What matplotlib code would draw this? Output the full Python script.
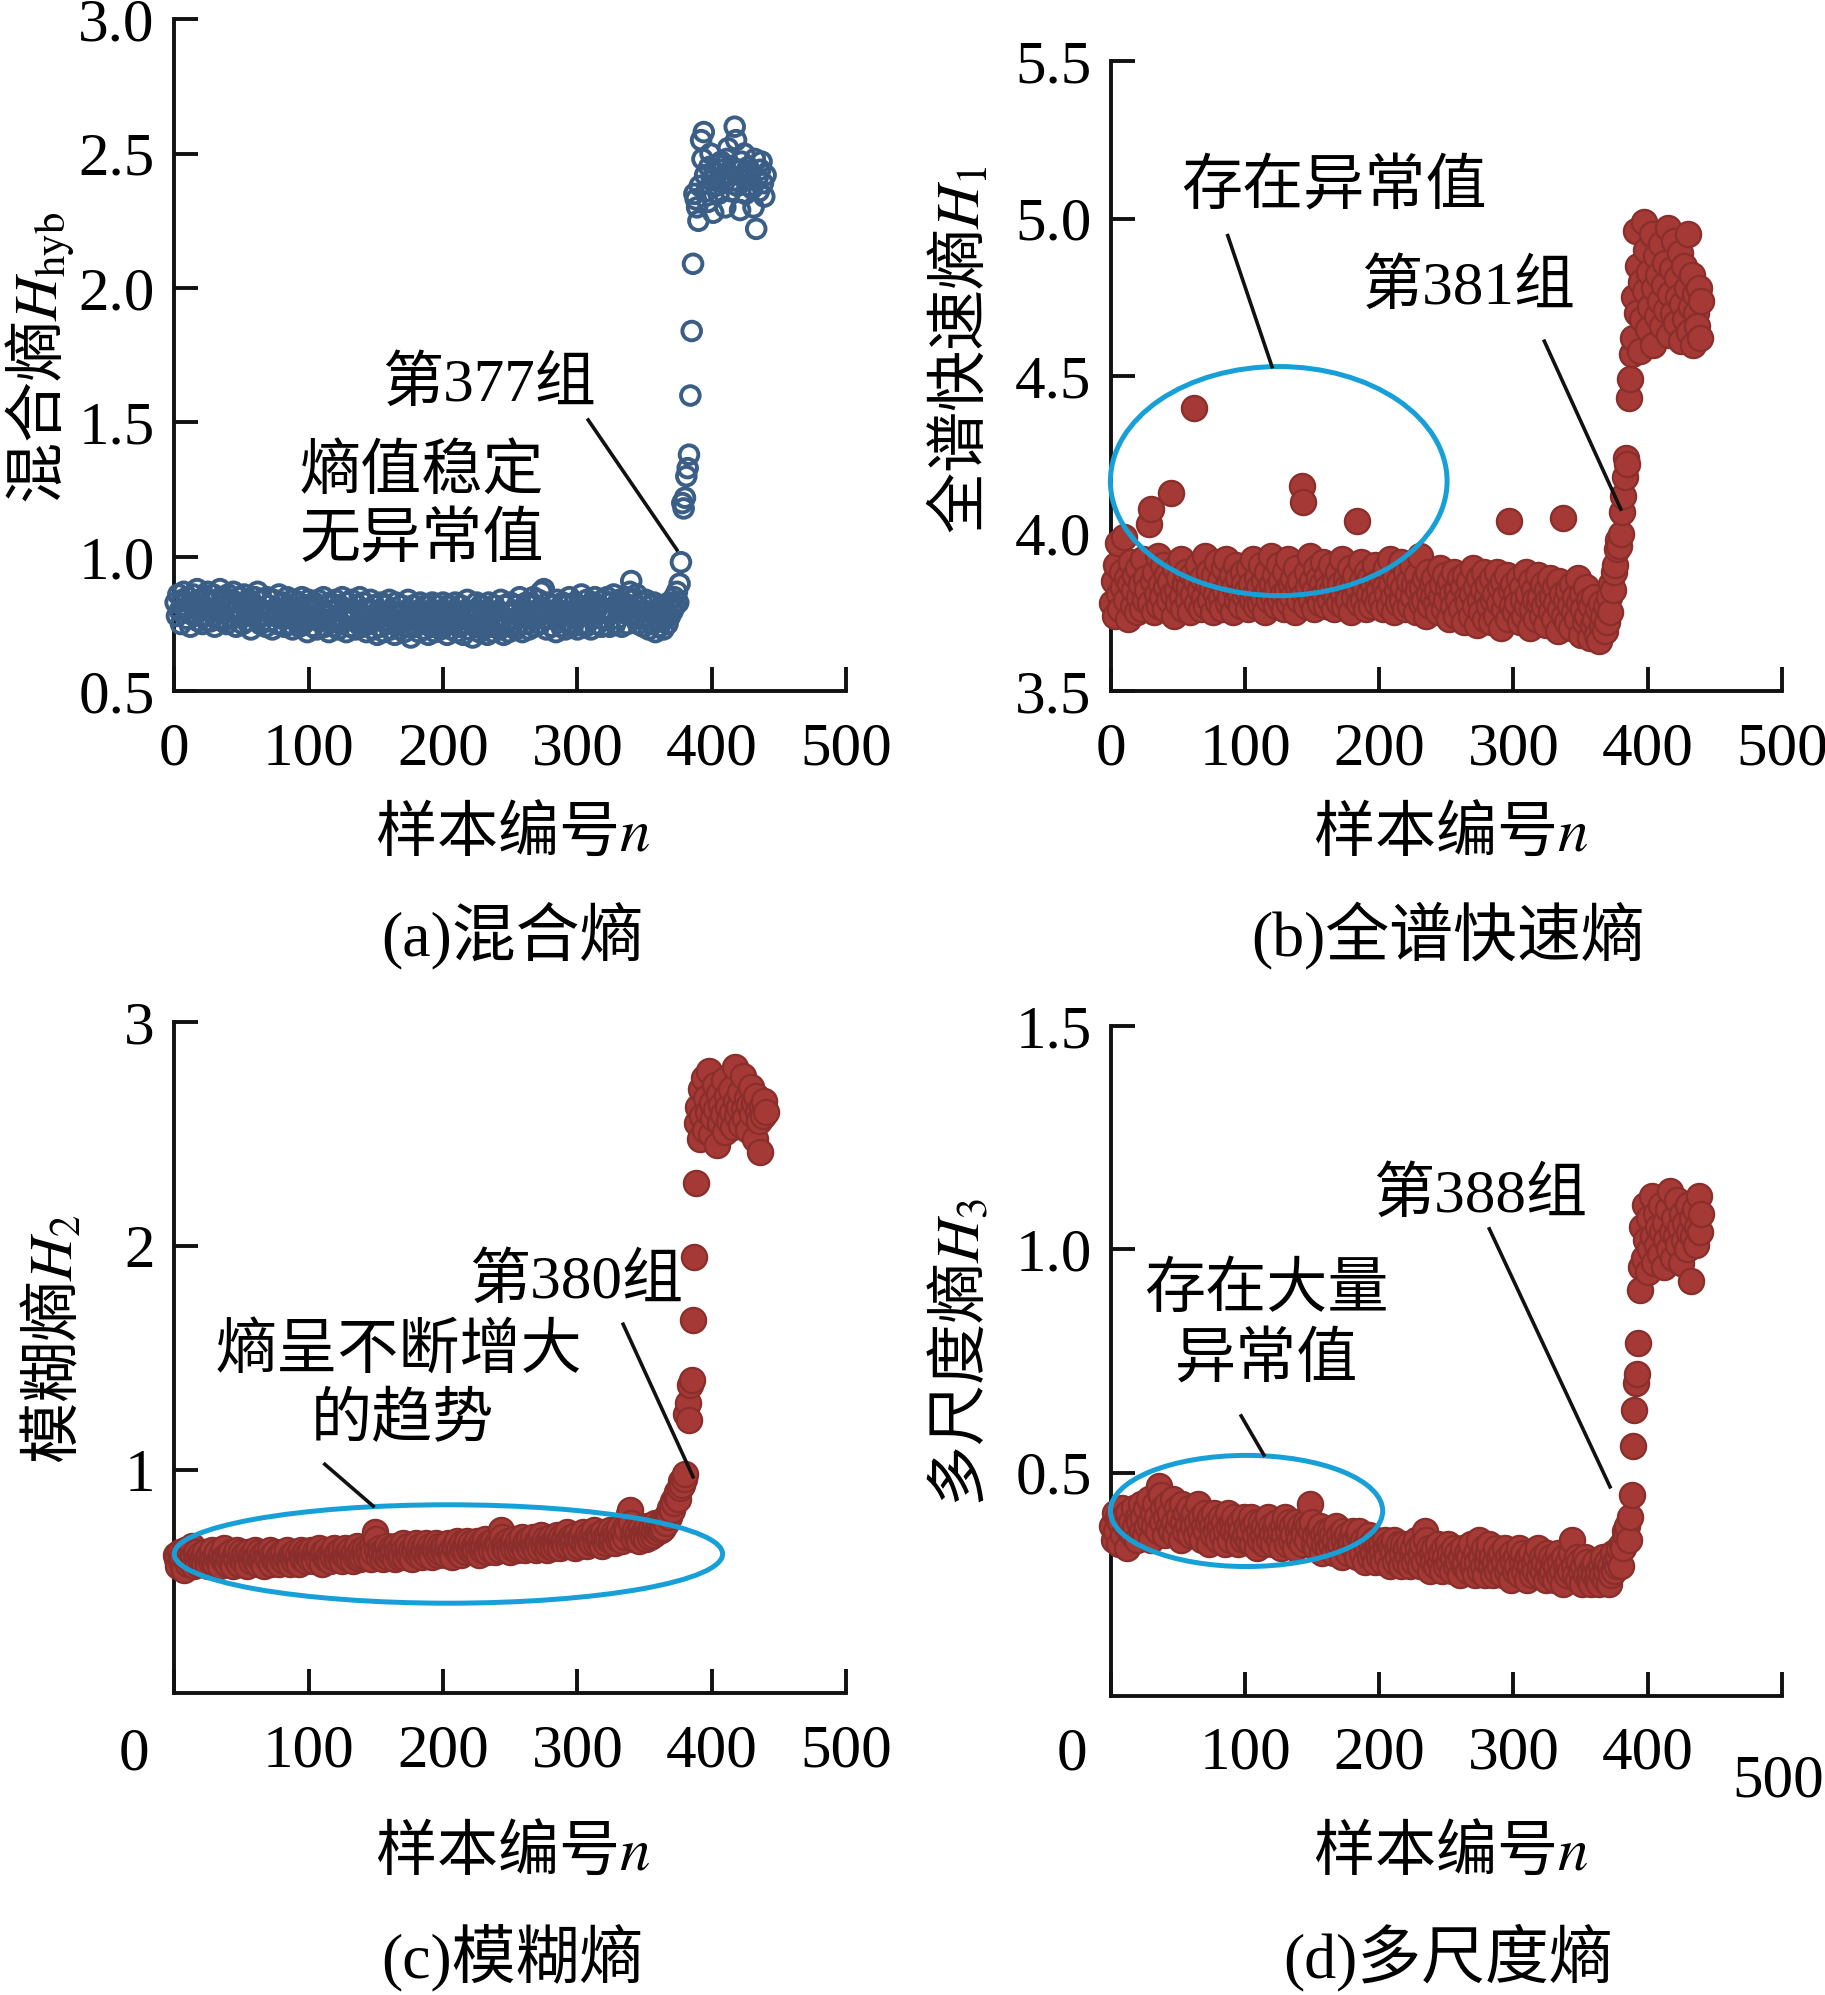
import numpy as np
import matplotlib
matplotlib.use('Agg')
import matplotlib.pyplot as plt
from matplotlib.patches import Ellipse

plt.rcParams['font.family'] = ['Liberation Serif', 'Noto Sans CJK SC']
plt.rcParams['mathtext.fontset'] = 'stix'

# ---------------- data (sample index n = 1 .. len) ----------------
hyb = [
    0.83,0.78,0.86,0.80,0.75,0.84,0.87,0.81,0.77,0.85,0.79,0.74,0.83,0.86,0.78,0.81,0.88,0.76,0.84,0.80,
    0.75,0.85,0.81,0.78,0.87,0.83,0.76,0.80,0.86,0.74,0.84,0.81,0.77,0.88,0.80,0.76,0.85,0.82,0.75,0.86,
    0.80,0.84,0.77,0.87,0.81,0.74,0.83,0.78,0.85,0.80,0.75,0.86,0.81,0.76,0.84,0.78,0.73,0.83,0.79,0.85,
    0.77,0.87,0.81,0.75,0.84,0.78,0.80,0.74,0.85,0.82,0.76,0.80,0.73,0.84,0.78,0.81,0.75,0.86,0.79,0.77,
    0.83,0.74,0.78,0.85,0.80,0.75,0.81,0.73,0.84,0.78,0.76,0.83,0.74,0.80,0.85,0.75,0.78,0.82,0.72,0.84,
    0.77,0.80,0.74,0.83,0.78,0.73,0.84,0.76,0.80,0.77,0.85,0.74,0.79,0.82,0.72,0.83,0.77,0.80,0.74,0.84,
    0.78,0.73,0.82,0.75,0.85,0.77,0.80,0.72,0.83,0.78,0.74,0.84,0.77,0.80,0.73,0.82,0.75,0.85,0.78,0.74,
    0.83,0.77,0.72,0.80,0.75,0.84,0.78,0.73,0.82,0.77,0.71,0.80,0.74,0.83,0.78,0.72,0.82,0.75,0.79,0.84,
    0.73,0.80,0.77,0.71,0.83,0.75,0.79,0.73,0.82,0.77,0.72,0.80,0.74,0.84,0.77,0.70,0.79,0.82,0.74,0.77,
    0.80,0.72,0.83,0.75,0.79,0.73,0.82,0.77,0.71,0.80,0.74,0.83,0.78,0.72,0.82,0.75,0.80,0.73,0.77,0.83,
    0.74,0.79,0.71,0.82,0.77,0.73,0.80,0.75,0.83,0.72,0.79,0.74,0.82,0.77,0.71,0.80,0.75,0.84,0.73,0.79,
    0.77,0.70,0.80,0.74,0.83,0.79,0.72,0.82,0.75,0.73,0.80,0.77,0.71,0.83,0.74,0.79,0.72,0.82,0.77,0.74,
    0.80,0.73,0.84,0.77,0.71,0.82,0.75,0.79,0.72,0.83,0.74,0.80,0.77,0.73,0.82,0.75,0.85,0.79,0.72,0.80,
    0.75,0.83,0.77,0.73,0.82,0.79,0.85,0.74,0.80,0.77,0.84,0.75,0.87,0.80,0.88,0.79,0.73,0.83,0.77,0.80,
    0.74,0.82,0.79,0.72,0.84,0.77,0.80,0.74,0.83,0.79,0.73,0.82,0.75,0.85,0.79,0.74,0.80,0.83,0.77,0.73,
    0.82,0.79,0.86,0.75,0.80,0.74,0.84,0.79,0.82,0.73,0.83,0.77,0.85,0.80,0.75,0.82,0.79,0.74,0.84,0.80,
    0.77,0.85,0.80,0.74,0.83,0.79,0.86,0.75,0.82,0.77,0.84,0.80,0.74,0.83,0.79,0.85,0.75,0.82,0.87,0.91,
    0.84,0.78,0.82,0.86,0.75,0.80,0.77,0.83,0.74,0.80,0.84,0.77,0.73,0.82,0.79,0.75,0.83,0.72,0.80,0.77,
    0.74,0.79,0.82,0.73,0.77,0.80,0.75,0.83,0.78,0.81,0.80,0.85,0.82,0.87,0.83,0.90,
    0.98,
    1.20,1.18,1.22,1.30,1.33,1.38,1.60,1.84,2.09,
    2.35,2.33,2.30,2.25,2.38,2.55,2.48,2.58,2.42,2.36,2.32,2.45,2.50,2.40,2.28,2.43,2.38,2.46,2.35,2.41,
    2.47,2.44,2.39,2.30,2.48,2.52,2.42,2.36,2.45,2.40,2.60,2.55,2.38,2.44,2.29,2.47,2.42,2.50,2.35,2.40,
    2.45,2.38,2.43,2.37,2.30,2.48,2.22,2.41,2.36,2.44,2.47,2.39,2.34,2.42,
]

h1 = [
    3.78,3.85,3.74,3.90,3.97,3.81,3.76,3.88,3.83,3.99,3.79,3.86,3.73,3.84,3.91,3.77,3.82,3.87,3.75,3.89,
    3.80,3.84,3.76,3.92,3.79,3.86,3.82,4.03,3.78,4.08,3.85,3.75,3.88,3.81,3.93,3.77,3.84,3.80,3.90,3.76,
    3.83,3.87,3.79,3.85,4.13,3.81,3.74,3.89,3.82,3.78,3.86,3.92,3.80,3.76,3.84,3.88,3.79,3.83,3.75,3.87,
    3.81,4.40,3.85,3.78,3.90,3.82,3.76,3.86,3.80,3.93,3.77,3.84,3.88,3.79,3.83,3.75,3.87,3.81,3.91,3.78,
    3.85,3.80,3.76,3.89,3.82,3.92,3.78,3.84,3.80,3.87,3.75,3.83,3.90,3.79,3.86,3.81,3.77,3.88,3.84,3.80,
    3.82,3.76,3.89,3.84,3.79,3.92,3.81,3.77,3.86,3.83,3.78,3.90,3.80,3.85,3.75,3.88,3.82,3.79,3.93,3.84,
    3.80,3.87,3.77,3.83,3.90,3.79,3.85,3.81,3.76,3.88,3.82,3.92,3.78,3.84,3.80,3.86,3.75,3.89,3.83,3.79,
    3.85,4.15,4.10,3.81,3.77,3.88,3.83,3.93,3.79,3.85,3.76,3.82,3.89,3.80,3.86,3.78,3.84,3.91,3.81,3.77,
    3.87,3.83,3.79,3.90,3.82,3.76,3.85,3.80,3.88,3.78,3.84,3.92,3.81,3.77,3.86,3.83,3.79,3.89,3.75,3.84,
    3.80,3.87,4.04,3.82,3.78,3.91,3.85,3.79,3.83,3.76,3.88,3.81,3.86,3.77,3.84,3.80,3.90,3.78,3.85,3.82,
    3.79,3.86,3.76,3.83,3.89,3.81,3.77,3.92,3.84,3.80,3.75,3.87,3.82,3.78,3.85,3.91,3.79,3.83,3.76,3.88,
    3.81,3.85,3.77,3.90,3.80,3.84,3.75,3.87,3.82,3.93,3.78,3.83,3.79,3.86,3.74,3.88,3.81,3.77,3.84,3.80,
    3.86,3.78,3.82,3.75,3.89,3.80,3.84,3.76,3.87,3.79,3.83,3.73,3.85,3.81,3.77,3.88,3.74,3.82,3.79,3.86,
    3.76,3.83,3.72,3.87,3.80,3.78,3.85,3.74,3.81,3.89,3.77,3.83,3.71,3.86,3.79,3.75,3.82,3.88,3.73,3.80,
    3.84,3.77,3.72,3.86,3.79,3.81,3.74,3.88,3.78,3.83,3.70,3.85,3.76,3.80,3.87,3.73,4.04,3.82,3.77,3.84,
    3.75,3.81,3.78,3.86,3.72,3.83,3.79,3.74,3.88,3.77,3.81,3.70,3.85,3.76,3.82,3.79,3.73,3.87,3.78,3.80,
    3.74,3.84,3.77,3.71,3.82,3.79,3.86,3.75,3.80,3.73,3.83,3.78,3.69,3.85,3.76,3.81,4.05,3.74,3.79,3.72,
    3.82,3.77,3.70,3.84,3.75,3.80,3.73,3.86,3.78,3.68,3.81,3.76,3.72,3.83,3.74,3.79,3.67,3.77,3.71,3.80,
    3.73,3.68,3.76,3.66,3.78,3.71,3.74,3.69,3.77,3.72,3.80,3.75,3.84,3.82,3.88,
    3.90,3.95,3.98,3.96,4.00,4.07,4.12,4.18,4.24,4.22,4.43,4.49,4.57,
    4.62,4.75,4.96,4.70,4.85,4.58,4.80,4.68,4.99,4.77,4.90,4.65,4.83,4.72,4.95,4.60,4.78,4.88,4.69,4.82,
    4.74,4.92,4.66,4.79,4.86,4.71,4.97,4.63,4.76,4.84,4.70,4.93,4.67,4.81,4.75,4.89,4.61,4.73,4.85,4.68,
    4.78,4.95,4.64,4.72,4.82,4.60,4.76,4.70,4.66,4.78,4.62,4.74,
]

h2 = [
    0.62,0.60,0.57,0.63,0.59,0.61,0.55,0.64,0.60,0.58,0.62,0.59,0.66,0.61,0.57,0.63,0.60,0.58,0.62,0.59,
    0.61,0.58,0.63,0.60,0.57,0.62,0.59,0.64,0.60,0.58,0.61,0.63,0.59,0.57,0.62,0.60,0.65,0.61,0.58,0.62,
    0.60,0.63,0.59,0.57,0.62,0.60,0.64,0.58,0.61,0.63,0.59,0.62,0.60,0.57,0.63,0.61,0.59,0.62,0.60,0.64,
    0.61,0.58,0.63,0.60,0.62,0.59,0.57,0.63,0.61,0.60,0.64,0.58,0.62,0.60,0.63,0.59,0.61,0.58,0.62,0.60,
    0.63,0.59,0.61,0.64,0.60,0.58,0.62,0.61,0.59,0.63,0.60,0.62,0.58,0.64,0.61,0.60,0.63,0.59,0.62,0.61,
    0.60,0.64,0.61,0.59,0.63,0.62,0.60,0.65,0.61,0.58,0.63,0.61,0.64,0.60,0.62,0.59,0.63,0.61,0.65,0.62,
    0.60,0.63,0.61,0.64,0.59,0.62,0.65,0.61,0.63,0.60,0.64,0.62,0.59,0.63,0.61,0.66,0.62,0.60,0.64,0.61,
    0.63,0.65,0.61,0.64,0.62,0.60,0.66,0.63,0.72,0.69,0.64,0.61,0.65,0.63,0.60,0.64,0.62,0.66,0.61,0.63,
    0.65,0.62,0.64,0.60,0.66,0.63,0.61,0.65,0.62,0.67,0.64,0.61,0.63,0.66,0.62,0.64,0.60,0.65,0.63,0.67,
    0.62,0.64,0.66,0.61,0.65,0.63,0.67,0.62,0.64,0.66,0.63,0.61,0.65,0.64,0.67,0.62,0.66,0.63,0.65,0.64,
    0.66,0.62,0.65,0.67,0.63,0.64,0.61,0.66,0.65,0.68,0.63,0.65,0.62,0.67,0.64,0.66,0.63,0.68,0.65,0.64,
    0.67,0.63,0.66,0.64,0.68,0.65,0.62,0.67,0.64,0.66,0.69,0.65,0.63,0.67,0.66,0.64,0.68,0.65,0.63,0.67,
    0.66,0.64,0.73,0.70,0.65,0.67,0.64,0.68,0.66,0.63,0.67,0.65,0.69,0.66,0.64,0.68,0.65,0.67,0.70,0.66,
    0.64,0.68,0.66,0.69,0.65,0.67,0.70,0.66,0.64,0.68,0.67,0.65,0.71,0.67,0.66,0.69,0.64,0.68,0.66,0.70,
    0.67,0.65,0.69,0.66,0.71,0.68,0.65,0.70,0.67,0.69,0.66,0.72,0.68,0.66,0.70,0.67,0.69,0.65,0.71,0.68,
    0.66,0.70,0.68,0.72,0.67,0.69,0.66,0.71,0.68,0.70,0.67,0.73,0.69,0.67,0.71,0.68,0.70,0.66,0.72,0.69,
    0.67,0.71,0.69,0.73,0.68,0.70,0.72,0.67,0.71,0.69,0.74,0.70,0.68,0.72,0.70,0.75,0.73,0.80,0.82,0.76,
    0.71,0.69,0.73,0.70,0.72,0.68,0.74,0.71,0.70,0.73,0.69,0.75,0.72,0.70,0.74,0.71,0.73,0.76,0.72,0.74,
    0.75,0.73,0.77,0.74,0.78,0.76,0.80,0.79,0.83,
    0.82,0.86,0.85,0.88,0.90,0.87,0.92,0.95,0.93,0.96,0.98,
    1.25,1.30,1.22,1.38,1.40,1.67,1.95,2.28,
    2.55,2.62,2.48,2.70,2.58,2.75,2.52,2.66,2.60,2.78,2.50,2.64,2.57,2.72,2.61,2.45,2.68,2.55,2.63,2.59,
    2.74,2.51,2.67,2.62,2.56,2.70,2.60,2.53,2.80,2.65,2.58,2.62,2.69,2.54,2.76,2.61,2.57,2.66,2.52,2.63,
    2.71,2.59,2.64,2.48,2.67,2.60,2.56,2.42,2.62,2.58,2.65,2.60,
]

h3 = [
    0.38,0.35,0.41,0.37,0.40,0.34,0.39,0.42,0.36,0.40,0.38,0.33,0.41,0.37,0.39,0.36,0.42,0.38,0.35,0.40,
    0.39,0.43,0.37,0.40,0.36,0.42,0.38,0.44,0.39,0.35,0.41,0.38,0.43,0.40,0.37,0.47,0.45,0.39,0.42,0.36,
    0.40,0.43,0.38,0.41,0.37,0.44,0.39,0.36,0.42,0.38,0.40,0.35,0.43,0.39,0.37,0.41,0.38,0.42,0.36,0.40,
    0.38,0.41,0.36,0.39,0.43,0.37,0.40,0.35,0.38,0.41,0.37,0.39,0.34,0.40,0.38,0.36,0.41,0.37,0.39,0.35,
    0.38,0.40,0.36,0.39,0.34,0.37,0.41,0.38,0.35,0.39,0.37,0.40,0.36,0.38,0.34,0.39,0.37,0.35,0.40,0.36,
    0.38,0.35,0.37,0.40,0.34,0.38,0.36,0.39,0.33,0.37,0.35,0.39,0.36,0.38,0.34,0.37,0.40,0.35,0.38,0.36,
    0.34,0.38,0.36,0.39,0.35,0.37,0.33,0.38,0.36,0.40,0.34,0.37,0.39,0.35,0.38,0.36,0.33,0.39,0.37,0.35,
    0.38,0.34,0.37,0.36,0.39,0.35,0.38,0.43,0.37,0.39,0.34,0.36,0.33,0.37,0.35,0.38,0.32,0.36,0.34,0.37,
    0.35,0.33,0.37,0.34,0.36,0.32,0.35,0.38,0.33,0.36,0.34,0.31,0.37,0.35,0.33,0.36,0.32,0.35,0.34,0.37,
    0.33,0.35,0.31,0.36,0.37,0.34,0.32,0.35,0.30,0.34,0.33,0.36,0.31,0.34,0.32,0.35,0.30,0.33,0.34,0.31,
    0.34,0.32,0.30,0.35,0.33,0.31,0.34,0.29,0.33,0.32,0.35,0.30,0.33,0.31,0.34,0.29,0.32,0.34,0.30,0.33,
    0.31,0.34,0.29,0.32,0.33,0.30,0.35,0.31,0.33,0.29,0.32,0.34,0.30,0.37,0.35,0.31,0.33,0.28,0.32,0.30,
    0.33,0.29,0.31,0.34,0.30,0.32,0.28,0.33,0.31,0.29,0.34,0.30,0.32,0.28,0.31,0.33,0.29,0.32,0.30,0.27,
    0.31,0.33,0.29,0.30,0.32,0.28,0.31,0.34,0.29,0.30,0.27,0.32,0.30,0.35,0.28,0.31,0.29,0.33,0.27,0.30,
    0.32,0.34,0.29,0.31,0.27,0.30,0.33,0.28,0.31,0.29,0.32,0.27,0.30,0.33,0.28,0.31,0.29,0.26,0.32,0.30,
    0.28,0.31,0.29,0.33,0.27,0.30,0.32,0.28,0.30,0.26,0.31,0.29,0.32,0.27,0.30,0.28,0.31,0.33,0.27,0.29,
    0.31,0.28,0.30,0.26,0.32,0.29,0.27,0.31,0.28,0.30,0.26,0.29,0.32,0.27,0.30,0.28,0.25,0.31,0.29,0.27,
    0.30,0.28,0.32,0.35,0.29,0.27,0.31,0.26,0.30,0.28,0.25,0.29,0.31,0.27,0.30,0.26,0.28,0.25,0.29,0.27,
    0.30,0.26,0.28,0.25,0.29,0.27,0.31,0.26,0.28,0.30,0.25,0.29,0.27,0.32,0.28,0.30,0.29,
    0.31,0.33,0.29,0.34,0.33,0.37,0.36,0.38,0.35,0.40,0.45,0.56,0.64,0.70,0.72,0.79,0.91,0.96,
    1.05,0.98,1.10,1.02,0.95,1.07,1.00,1.12,1.03,0.97,1.08,1.01,1.05,0.99,1.10,1.04,0.96,1.06,1.02,1.09,
    1.00,1.13,1.04,0.98,1.07,1.03,1.11,1.01,1.05,0.97,1.08,1.02,1.06,1.00,1.10,1.04,0.93,1.07,1.03,1.09,
    1.01,1.05,1.12,1.04,1.08,
]

x_ticks = [0, 100, 200, 300, 400, 500]
x_label = '样本编号$n$'
captions = ['(a)混合熵', '(b)全谱快速熵', '(c)模糊熵', '(d)多尺度熵']
y_labels = ['混合熵$H_{\\mathrm{hyb}}$', '全谱快速熵$H_1$', '模糊熵$H_2$', '多尺度熵$H_3$']
y_ticks_a = [0.5, 1.0, 1.5, 2.0, 2.5, 3.0]
y_ticks_b = [3.5, 4.0, 4.5, 5.0, 5.5]
y_ticks_c = [1, 2, 3]
y_ticks_d = [0.5, 1.0, 1.5]

# ---------------- figure ----------------
FS = 44
BLUE = '#3a5e85'
RED_FACE = '#a43936'
RED_EDGE = '#8a2e2b'
CYAN = '#17a0d8'
CJK = ['Noto Sans CJK SC']

fig = plt.figure(figsize=(18.25, 19.95), dpi=100)

ax_a = fig.add_axes([0.0955, 0.6535, 0.3682, 0.3369])
ax_b = fig.add_axes([0.6088, 0.6535, 0.3675, 0.3159])
ax_c = fig.add_axes([0.0955, 0.1512, 0.3682, 0.3364])
ax_d = fig.add_axes([0.6088, 0.1500, 0.3675, 0.3356])

def style(ax, ylim, yticks, yfmt):
    for s in ['top', 'right']:
        ax.spines[s].set_visible(False)
    for s in ['left', 'bottom']:
        ax.spines[s].set_linewidth(2.8)
        ax.spines[s].set_color('#111111')
    ax.set_xlim(0, 500)
    ax.set_ylim(*ylim)
    ax.set_yticks(yticks)
    ax.set_yticklabels([yfmt.format(v) for v in yticks])
    ax.tick_params(direction='in', length=17, width=2.8, labelsize=FS,
                   color='#111111', pad=14)
    ax.tick_params(axis='x', pad=22)

n_a = np.arange(1, len(hyb) + 1)
n_b = np.arange(1, len(h1) + 1)
n_c = np.arange(1, len(h2) + 1)
n_d = np.arange(1, len(h3) + 1)

ax_a.scatter(n_a, hyb, s=180, facecolors='none', edgecolors=BLUE, linewidths=2.8, zorder=3, clip_on=False)
ax_b.scatter(n_b, h1, s=330, c=RED_FACE, edgecolors=RED_EDGE, linewidths=1.6, zorder=3, clip_on=False)
ax_c.scatter(n_c, h2, s=330, c=RED_FACE, edgecolors=RED_EDGE, linewidths=1.6, zorder=3, clip_on=False)
ax_d.scatter(n_d, h3, s=330, c=RED_FACE, edgecolors=RED_EDGE, linewidths=1.6, zorder=3, clip_on=False)

style(ax_a, (0.5, 3.0), y_ticks_a, '{:.1f}')
style(ax_b, (3.5, 5.5), y_ticks_b, '{:.1f}')
style(ax_c, (0, 3), y_ticks_c, '{:d}')
style(ax_d, (0, 1.5), y_ticks_d, '{:.1f}')

for ax in (ax_a, ax_b):
    ax.set_xticks(x_ticks)
    ax.set_xticklabels([str(v) for v in x_ticks])

ax_c.set_xticks(x_ticks)
ax_c.set_xticklabels([''] + [str(v) for v in x_ticks[1:]])
ax_c.text(-30, -0.091, '0', transform=ax_c.get_xaxis_transform(), ha='center', va='center', fontsize=FS)

ax_d.set_xticks(x_ticks)
ax_d.set_xticklabels([''] + [str(v) for v in x_ticks[1:-1]] + [''])
ax_d.text(-29, -0.0875, '0', transform=ax_d.get_xaxis_transform(), ha='center', va='center', fontsize=FS)
ax_d.text(497, -0.129, '500', transform=ax_d.get_xaxis_transform(), ha='center', va='center', fontsize=FS)

# ---------------- annotations ----------------
def line(ax, p, q):
    ax.plot([p[0], q[0]], [p[1], q[1]], color='#111111', lw=2.6, clip_on=False, zorder=6)

def label(ax, x, y, s):
    ax.text(x, y, s, ha='center', va='center', fontsize=FS, clip_on=False, zorder=7)

# (a)
label(ax_a, 234, 1.636, '第377组')
line(ax_a, (308, 1.509), (374, 1.026))
label(ax_a, 184, 1.310, '熵值稳定')
label(ax_a, 184, 1.059, '无异常值')

# (b)
label(ax_b, 166, 5.096, '存在异常值')
line(ax_b, (87, 4.946), (120, 4.530))
ax_b.add_patch(Ellipse((125, 4.167), 251, 0.727, fill=False, edgecolor=CYAN, lw=3.6, zorder=5, clip_on=False))
label(ax_b, 266, 4.777, '第381组')
line(ax_b, (323, 4.611), (380, 4.078))

# (c)
label(ax_c, 299, 1.838, '第380组')
line(ax_c, (334, 1.650), (386, 0.968))
label(ax_c, 167, 1.525, '熵呈不断增大')
label(ax_c, 170, 1.212, '的趋势')
line(ax_c, (112, 1.024), (148, 0.837))
ax_c.add_patch(Ellipse((204, 0.623), 408, 0.44, fill=False, edgecolor=CYAN, lw=3.6, zorder=5, clip_on=False))

# (d)
label(ax_d, 275, 1.118, '第388组')
line(ax_d, (282, 1.046), (372, 0.468))
label(ax_d, 116, 0.904, '存在大量')
label(ax_d, 116, 0.750, '异常值')
line(ax_d, (97, 0.627), (114, 0.539))
ax_d.add_patch(Ellipse((101, 0.414), 203, 0.249, fill=False, edgecolor=CYAN, lw=3.6, zorder=5, clip_on=False))

for ax in (ax_a, ax_b, ax_c, ax_d):
    ax.set_xlim(0, 500)

# ---------------- axis titles & captions ----------------
fig.text(0.0215, 0.8207, y_labels[0], rotation=90, ha='center', va='center', fontsize=FS, family=CJK)
fig.text(0.5265, 0.8245, y_labels[1], rotation=90, ha='center', va='center', fontsize=FS, family=CJK)
fig.text(0.0300, 0.3287, y_labels[2], rotation=90, ha='center', va='center', fontsize=FS, family=CJK)
fig.text(0.5265, 0.3223, y_labels[3], rotation=90, ha='center', va='center', fontsize=FS, family=CJK)

for fx, fy in [(0.281, 0.582), (0.795, 0.582), (0.281, 0.0715), (0.795, 0.0715)]:
    fig.text(fx, fy, x_label, ha='center', va='center', fontsize=FS, family=CJK)

for (fx, fy), cap in zip([(0.281, 0.531), (0.7936, 0.531), (0.281, 0.0185), (0.7936, 0.0185)], captions):
    fig.text(fx, fy, cap, ha='center', va='center', fontsize=46)

fig.savefig('out.png', dpi=100)
